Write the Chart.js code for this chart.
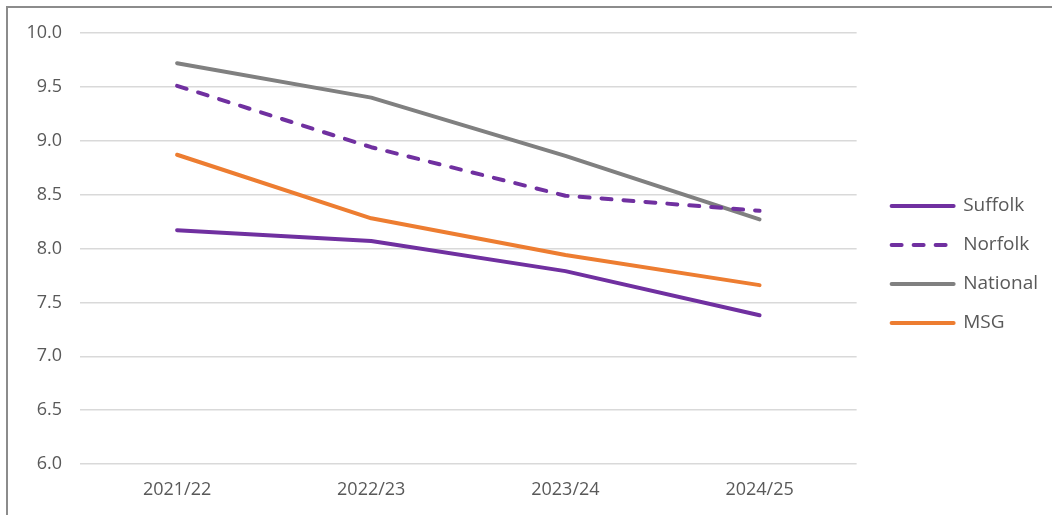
<!DOCTYPE html>
<html>
<head>
  <title>Suffolk vs Norfolk</title>
  <script src="https://cdn.jsdelivr.net/npm/chart.js"></script>
  <style>
    body {
      margin: 0;
      background: #fff;
      font-family: "Open Sans", Arial, sans-serif;
    }

    .frame {
      position: absolute;
      left: 6px;
      top: 6px;
      width: 1046px;
      height: 509px;
      border-top: 2px solid #8c8c8c;
      border-left: 2px solid #8c8c8c;
    }

    .chart-box {
      position: relative;
      width: 1044px;
      height: 507px;
    }
  </style>
</head>
<body>
  <div class="frame">
    <div class="chart-box">
      <canvas id="trendChart"></canvas>
    </div>
  </div>

  <script>
    // values
    const years = ['2021/22', '2022/23', '2023/24', '2024/25'];
    const suffolk = [8.17, 8.07, 7.79, 7.38];
    const norfolk = [9.51, 8.94, 8.49, 8.35];
    const national = [9.72, 9.40, 8.86, 8.27];
    const msg = [8.87, 8.28, 7.94, 7.66];

    const textColor = '#595959';
    const fontFamily = '"Open Sans", Arial, sans-serif';

    function series(label, data, color, dash) {
      return {
        label: label,
        data: data,
        borderColor: color,
        backgroundColor: color,
        borderWidth: 4,
        borderDash: dash || [],
        borderCapStyle: 'round',
        borderJoinStyle: 'round',
        pointRadius: 0,
        tension: 0
      };
    }

    // push the legend a bit away from the plot
    const legendShift = {
      id: 'legendShift',
      afterLayout(chart) {
        if (chart.legend) {
          chart.legend.left += 15;
          chart.legend.right += 15;
        }
      }
    };

    const ctx = document.getElementById('trendChart').getContext('2d');
    new Chart(ctx, {
      type: 'line',
      data: {
        labels: years,
        datasets: [
          series('Suffolk', suffolk, '#7030A0'),
          series('Norfolk', norfolk, '#7030A0', [10, 12]),
          series('National', national, '#808080'),
          series('MSG', msg, '#ED7D31')
        ]
      },
      options: {
        responsive: true,
        maintainAspectRatio: false,
        animation: false,
        layout: {
          padding: { top: 6, right: 19, bottom: 0, left: 0 }
        },
        plugins: {
          tooltip: { enabled: false },
          legend: {
            position: 'right',
            align: 'center',
            labels: {
              usePointStyle: true,
              pointStyle: 'line',
              pointStyleWidth: 62,
              padding: 20,
              color: textColor,
              font: { family: fontFamily, size: 19 },
              generateLabels(chart) {
                const items = Chart.defaults.plugins.legend.labels.generateLabels(chart);
                items.forEach(item => {
                  const ds = chart.data.datasets[item.datasetIndex];
                  item.lineDash = ds.borderDash;
                  item.lineWidth = 4;
                  item.lineCap = 'round';
                  item.strokeStyle = ds.borderColor;
                });
                return items;
              }
            }
          }
        },
        scales: {
          x: {
            offset: true,
            afterFit(scale) { scale.height = 51; },
            grid: { display: false, drawTicks: false },
            border: { display: false },
            ticks: {
              color: textColor,
              padding: 15,
              font: { family: fontFamily, size: 18 }
            }
          },
          y: {
            min: 6,
            max: 10,
            afterFit(scale) {
              scale.width = 72;
              scale.paddingTop = 25;
            },
            grid: { color: '#d9d9d9', lineWidth: 1.5, drawTicks: false },
            border: { display: false },
            ticks: {
              stepSize: 0.5,
              color: textColor,
              padding: 18,
              font: { family: fontFamily, size: 18 },
              callback: v => v.toFixed(1)
            }
          }
        }
      },
      plugins: [legendShift]
    });
  </script>
</body>
</html>
